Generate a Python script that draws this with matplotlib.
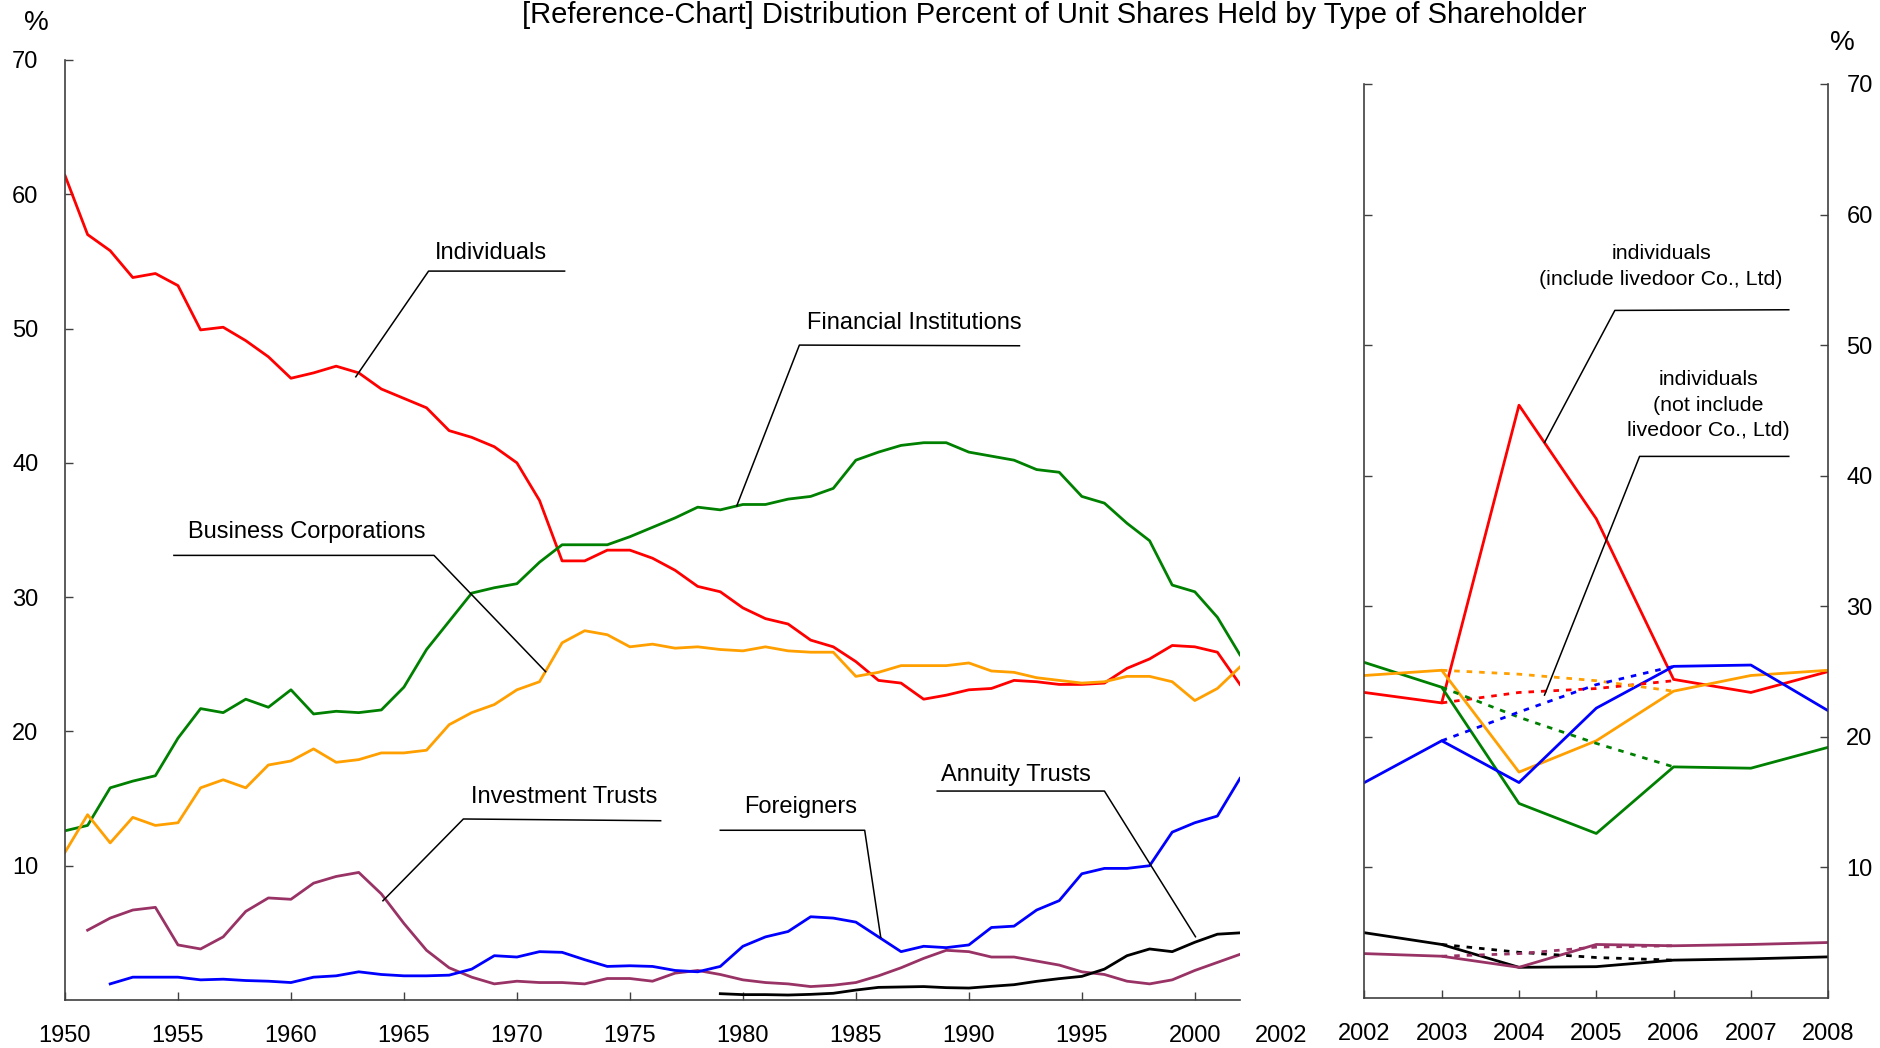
import numpy as np
import matplotlib
matplotlib.use("Agg")
import matplotlib.pyplot as plt

plt.rcParams['font.family'] = ['Liberation Sans', 'DejaVu Sans']

# ---------------- data ----------------
years_left = list(range(1950, 2003))
individuals = [61.4, 57.0, 55.8, 53.8, 54.1, 53.2, 49.9, 50.1, 49.1, 47.9,
               46.3, 46.7, 47.2, 46.7, 45.5, 44.8, 44.1, 42.4, 41.9, 41.2,
               40.0, 37.2, 32.7, 32.7, 33.5, 33.5, 32.9, 32.0, 30.8, 30.4,
               29.2, 28.4, 28.0, 26.8, 26.3, 25.2, 23.8, 23.6, 22.4, 22.7,
               23.1, 23.2, 23.8, 23.7, 23.5, 23.5, 23.6, 24.7, 25.4, 26.4,
               26.3, 25.9, 23.5]
financial = [12.6, 13.0, 15.8, 16.3, 16.7, 19.5, 21.7, 21.4, 22.4, 21.8,
             23.1, 21.3, 21.5, 21.4, 21.6, 23.3, 26.1, 28.2, 30.3, 30.7,
             31.0, 32.6, 33.9, 33.9, 33.9, 34.5, 35.2, 35.9, 36.7, 36.5,
             36.9, 36.9, 37.3, 37.5, 38.1, 40.2, 40.8, 41.3, 41.5, 41.5,
             40.8, 40.5, 40.2, 39.5, 39.3, 37.5, 37.0, 35.5, 34.2, 30.9,
             30.4, 28.5, 25.7]
business = [11.0, 13.8, 11.7, 13.6, 13.0, 13.2, 15.8, 16.4, 15.8, 17.5,
            17.8, 18.7, 17.7, 17.9, 18.4, 18.4, 18.6, 20.5, 21.4, 22.0,
            23.1, 23.7, 26.6, 27.5, 27.2, 26.3, 26.5, 26.2, 26.3, 26.1,
            26.0, 26.3, 26.0, 25.9, 25.9, 24.1, 24.4, 24.9, 24.9, 24.9,
            25.1, 24.5, 24.4, 24.0, 23.8, 23.6, 23.7, 24.1, 24.1, 23.7,
            22.3, 23.2, 24.8]
years_invest = list(range(1951, 2003))
invest_trusts = [5.2, 6.1, 6.7, 6.9, 4.1, 3.8, 4.7, 6.6, 7.6, 7.5,
                 8.7, 9.2, 9.5, 7.9, 5.7, 3.7, 2.4, 1.7, 1.2, 1.4,
                 1.3, 1.3, 1.2, 1.6, 1.6, 1.4, 2.0, 2.2, 1.9, 1.5,
                 1.3, 1.2, 1.0, 1.1, 1.3, 1.8, 2.4, 3.1, 3.7, 3.6,
                 3.2, 3.2, 2.9, 2.6, 2.1, 1.9, 1.4, 1.2, 1.5, 2.2,
                 2.8, 3.4]
years_foreign = list(range(1952, 2003))
foreigners = [1.2, 1.7, 1.7, 1.7, 1.5, 1.55, 1.45, 1.4, 1.3, 1.7,
              1.8, 2.1, 1.9, 1.8, 1.8, 1.85, 2.3, 3.3, 3.2, 3.6,
              3.55, 3.0, 2.5, 2.55, 2.5, 2.2, 2.1, 2.5, 4.0, 4.7,
              5.1, 6.2, 6.1, 5.8, 4.7, 3.6, 4.0, 3.9, 4.1, 5.4,
              5.5, 6.7, 7.4, 9.4, 9.8, 9.8, 10.0, 12.5, 13.2, 13.7,
              16.5]
years_annuity = list(range(1979, 2003))
annuity = [0.47, 0.4, 0.4, 0.37, 0.42, 0.5, 0.74, 0.94, 0.97, 1.0,
           0.92, 0.89, 1.02, 1.14, 1.39, 1.59, 1.76, 2.3, 3.3, 3.8,
           3.6, 4.3, 4.9, 5.0]

years_right = [2002, 2003, 2004, 2005, 2006, 2007, 2008]
r_individuals = [23.4, 22.6, 45.4, 36.7, 24.4, 23.4, 25.0]
r_financial = [25.7, 23.8, 14.9, 12.6, 17.7, 17.6, 19.2]
r_business = [24.7, 25.1, 17.3, 19.7, 23.5, 24.7, 25.1]
r_foreigners = [16.5, 19.7, 16.5, 22.2, 25.4, 25.5, 22.0]
r_annuity = [5.0, 4.1, 2.35, 2.4, 2.9, 3.0, 3.15]
r_invest = [3.4, 3.2, 2.35, 4.1, 4.0, 4.1, 4.25]

years_excl = [2003, 2004, 2005, 2006]
x_individuals = [22.6, 23.4, 23.7, 24.3]
x_financial = [23.8, 21.5, 19.5, 17.7]
x_business = [25.1, 24.8, 24.3, 23.5]
x_foreigners = [19.7, 21.9, 24.0, 25.4]
x_annuity = [4.1, 3.5, 3.1, 2.9]
x_invest = [3.2, 3.4, 3.9, 4.0]

left_xticks = [1950, 1955, 1960, 1965, 1970, 1975, 1980, 1985, 1990, 1995, 2000]
yticks = [10, 20, 30, 40, 50, 60, 70]

title = "[Reference-Chart] Distribution Percent of Unit Shares Held by Type of Shareholder"

# ---------------- style ----------------
C_RED = '#FF0000'
C_GREEN = '#008000'
C_ORANGE = '#FF9F00'
C_BLUE = '#0000FF'
C_PURPLE = '#993366'
C_BLACK = '#000000'
LW = 2.0
SPINE = '#404040'

W, H = 1881, 1048
fig = plt.figure(figsize=(W / 100, H / 100), dpi=100)

def frac_box(x0, x1, ytop, ybot):
    return [x0 / W, 1 - ybot / H, (x1 - x0) / W, (ybot - ytop) / H]

ax1 = fig.add_axes(frac_box(65, 1240, 60, 1000))
ax2 = fig.add_axes(frac_box(1364.4, 1828.2, 84, 998))

# left panel lines
ax1.plot(years_left, individuals, color=C_RED, lw=LW)
ax1.plot(years_left, financial, color=C_GREEN, lw=LW)
ax1.plot(years_left, business, color=C_ORANGE, lw=LW)
ax1.plot(years_invest, invest_trusts, color=C_PURPLE, lw=LW)
ax1.plot(years_foreign, foreigners, color=C_BLUE, lw=LW)
ax1.plot(years_annuity, annuity, color=C_BLACK, lw=LW)

ax1.set_xlim(1950, 2002)
ax1.set_ylim(0, 70)
ax1.set_xticks(left_xticks)
ax1.set_xticklabels([str(y) for y in left_xticks])
ax1.set_yticks(yticks)
ax1.set_yticklabels([str(v) for v in yticks])
for s in ['top', 'right']:
    ax1.spines[s].set_visible(False)
for s in ['left', 'bottom']:
    ax1.spines[s].set_color(SPINE)
    ax1.spines[s].set_linewidth(1.2)
ax1.tick_params(axis='y', direction='in', length=6, width=1.0, color=SPINE,
                labelsize=17, pad=19)
ax1.tick_params(axis='x', direction='in', length=6, width=1.0, color=SPINE,
                labelsize=17, pad=18)
ax1.annotate('2002', xy=(2003.8, 0), xycoords=ax1.get_xaxis_transform(),
             xytext=(0, -18), textcoords='offset points', ha='center',
             va='top', fontsize=17, annotation_clip=False)

# right panel lines
ax2.plot(years_right, r_individuals, color=C_RED, lw=LW)
ax2.plot(years_right, r_financial, color=C_GREEN, lw=LW)
ax2.plot(years_right, r_business, color=C_ORANGE, lw=LW)
ax2.plot(years_right, r_foreigners, color=C_BLUE, lw=LW)
ax2.plot(years_right, r_annuity, color=C_BLACK, lw=LW)
ax2.plot(years_right, r_invest, color=C_PURPLE, lw=LW)
dash = (0, (2, 2.5))
ax2.plot(years_excl, x_individuals, color=C_RED, lw=LW, linestyle=dash)
ax2.plot(years_excl, x_financial, color=C_GREEN, lw=LW, linestyle=dash)
ax2.plot(years_excl, x_business, color=C_ORANGE, lw=LW, linestyle=dash)
ax2.plot(years_excl, x_foreigners, color=C_BLUE, lw=LW, linestyle=dash)
ax2.plot(years_excl, x_annuity, color=C_BLACK, lw=LW, linestyle=dash)
ax2.plot(years_excl, x_invest, color=C_PURPLE, lw=LW, linestyle=dash)

ax2.set_xlim(2002, 2008)
ax2.set_ylim(0, 70)
ax2.set_xticks(years_right)
ax2.set_xticklabels([str(y) for y in years_right])
ax2.set_yticks(yticks)
ax2.set_yticklabels([str(v) for v in yticks])
ax2.spines['top'].set_visible(False)
for s in ['left', 'right', 'bottom']:
    ax2.spines[s].set_color(SPINE)
    ax2.spines[s].set_linewidth(1.2)
ax2.tick_params(axis='y', which='both', direction='in', length=6, width=1.0,
                color=SPINE, left=True, right=True, labelleft=False,
                labelright=True, labelsize=17, pad=13)
ax2.tick_params(axis='x', direction='in', length=6, width=1.0, color=SPINE,
                labelsize=17, pad=18)

# percent labels and title
fig.text(36 / W, 1 - 23.5 / H, '%', fontsize=20, ha='center', va='center')
fig.text(1842 / W, 1 - 43 / H, '%', fontsize=20, ha='center', va='center')
fig.text(1054.5 / W, 1 - 23 / H, title, fontsize=21, ha='center', va='baseline')

# callouts
def callout(ax, pts, label, tpos, fs=17, ls=1.2):
    xs = [p[0] for p in pts]
    ys = [p[1] for p in pts]
    ax.plot(xs, ys, color='black', lw=1.1, clip_on=False)
    ax.text(tpos[0], tpos[1], label, fontsize=fs, ha='center', va='center',
            linespacing=ls)

callout(ax1, [(1962.87, 46.41), (1966.09, 54.28), (1972.11, 54.28)],
        'Individuals', (1968.85, 55.62))
callout(ax1, [(1979.73, 36.8), (1982.5, 48.77), (1992.24, 48.72)],
        'Financial Institutions', (1987.57, 50.43))
callout(ax1, [(1954.82, 33.11), (1966.33, 33.11), (1971.27, 24.45)],
        'Business Corporations', (1960.71, 34.87))
callout(ax1, [(1964.07, 7.39), (1967.63, 13.48), (1976.36, 13.35)],
        'Investment Trusts', (1972.08, 15.09))
callout(ax1, [(1979.0, 12.64), (1985.39, 12.64), (1986.1, 4.67)],
        'Foreigners', (1982.56, 14.35))
callout(ax1, [(1988.6, 15.56), (1996.0, 15.56), (2000.03, 4.71)],
        'Annuity Trusts', (1992.1, 16.75))

callout(ax2, [(2004.33, 42.54), (2005.24, 52.66), (2007.49, 52.71)],
        'individuals\n(include livedoor Co., Ltd)', (2005.84, 56.0), fs=15.4,
        ls=1.45)
callout(ax2, [(2004.33, 23.2), (2005.56, 41.48), (2007.49, 41.48)],
        'individuals\n(not include\nlivedoor Co., Ltd)', (2006.45, 45.4),
        fs=15.4, ls=1.45)

fig.savefig('out.png', dpi=100)
